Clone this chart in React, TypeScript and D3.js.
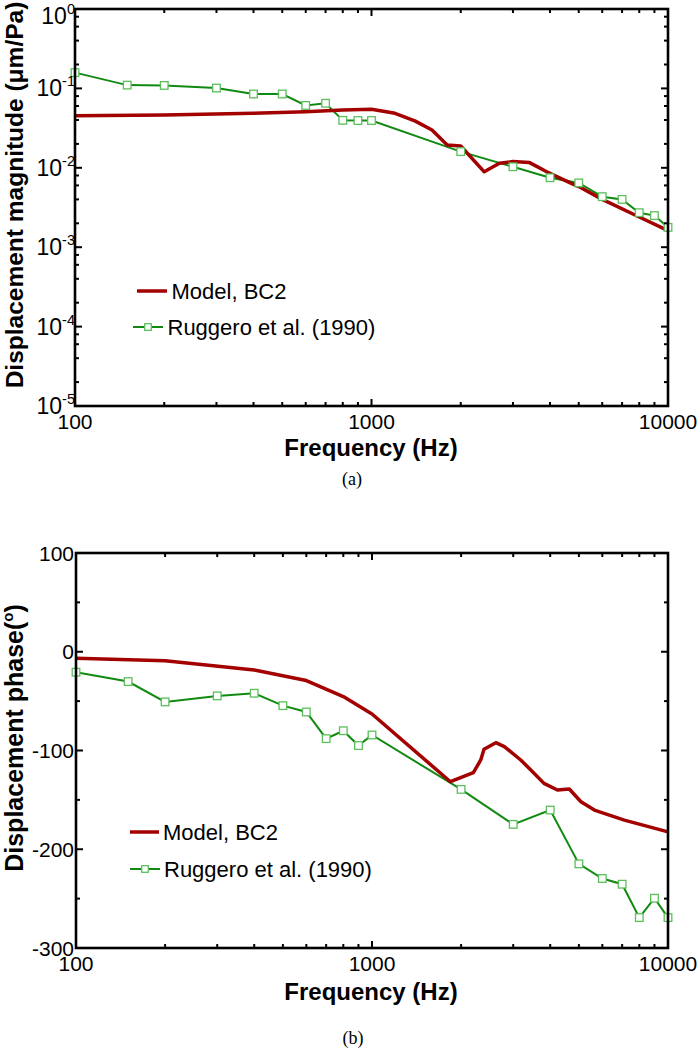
import React from 'react';
import * as d3 from 'd3';

// ---------- data ----------
const freqRuggero = [100, 150, 200, 300, 400, 500, 600, 700, 800, 900, 1000, 2000, 3000, 4000, 5000, 6000, 7000, 8000, 9000, 10000];
const magRuggero = [0.158, 0.110, 0.109, 0.101, 0.085, 0.085, 0.061, 0.065, 0.0396, 0.0394, 0.0394, 0.0160, 0.0103, 0.0075, 0.00645, 0.00433, 0.0040, 0.00272, 0.0025, 0.00178];
const phaseRuggero = [-20.7, -30.2, -50.8, -44.7, -42, -54.6, -61, -88, -80, -95, -84.3, -139.4, -174.8, -160.3, -214.8, -229.6, -235.4, -269.2, -249.6, -269.2];

const freqModelMag = [100, 200, 400, 600, 800, 1000, 1200, 1400, 1600, 1800, 2000, 2400, 2700, 3000, 3400, 3900, 4700, 5000, 6000, 8000, 10000];
const magModel = [0.0454, 0.0463, 0.0486, 0.0509, 0.0535, 0.0545, 0.0486, 0.039, 0.0299, 0.0194, 0.0188, 0.0089, 0.0114, 0.0120, 0.0117, 0.0089, 0.0064, 0.0058, 0.0040, 0.0024, 0.00162];

const freqModelPhase = [100, 200, 400, 600, 800, 1000, 1840, 2200, 2330, 2390, 2620, 2800, 3180, 3440, 3810, 4230, 4640, 5080, 5640, 7120, 10000];
const phaseModel = [-6.5, -9.2, -18.4, -29.2, -45.4, -63, -131.6, -122.5, -109.6, -98.8, -92.1, -96, -109.6, -119.8, -133.3, -140, -139, -151.9, -160.3, -170.5, -182.4];

const xTickLabels = ['100', '1000', '10000'];
const magDecades = [0, -1, -2, -3, -4, -5];
const phaseTicks = [100, 0, -100, -200, -300];
const legendNames = ['Model, BC2', 'Ruggero et al. (1990)'];

// ---------- style ----------
const FONT = 'Liberation Sans, Arial, Helvetica, sans-serif';
const SERIF = 'Liberation Serif, Times New Roman, serif';
const RED = '#a30000';
const GREEN = '#118a11';
const MARK = '#5cbf5c';

function xTickList() {
  const out: { v: number; major: boolean }[] = [];
  [100, 1000].forEach((d) => {
    for (let k = 1; k <= 9; k++) out.push({ v: d * k, major: k === 1 });
  });
  out.push({ v: 10000, major: true });
  return out;
}

function Frame({ xs, ys, yTicks }: { xs: any; ys: any; yTicks: { v: number; major: boolean }[] }) {
  const [x0, x1] = xs.range();
  const [y0, y1] = ys.range(); // y0 bottom, y1 top
  const xt = xTickList();
  const Lmaj = 7, Lmin = 4;
  return (
    <g>
      {xt.map((t, i) => {
        const x = xs(t.v);
        const L = t.major ? Lmaj : Lmin;
        return (
          <g key={'x' + i} stroke="#000" strokeWidth={2}>
            <line x1={x} x2={x} y1={y0} y2={y0 - L} />
            <line x1={x} x2={x} y1={y1} y2={y1 + L} />
          </g>
        );
      })}
      {yTicks.map((t, i) => {
        const y = ys(t.v);
        const L = t.major ? Lmaj : Lmin;
        return (
          <g key={'y' + i} stroke="#000" strokeWidth={2}>
            <line x1={x0} x2={x0 + L} y1={y} y2={y} />
            <line x1={x1} x2={x1 - L} y1={y} y2={y} />
          </g>
        );
      })}
      <rect x={x0} y={y1} width={x1 - x0} height={y0 - y1} fill="none" stroke="#000" strokeWidth={2.6} />
      {xTickLabels.map((lab) => (
        <text key={lab} x={xs(+lab)} y={y0 + 22.5} textAnchor="middle" fontFamily={FONT} fontSize={21} fill="#000">
          {lab}
        </text>
      ))}
    </g>
  );
}

function Series({ xs, ys, fm, vm, fr, vr }: any) {
  const line = d3.line<[number, number]>().x((d) => xs(d[0])).y((d) => ys(d[1]));
  const model = fm.map((f: number, i: number) => [f, vm[i]] as [number, number]);
  const rug = fr.map((f: number, i: number) => [f, vr[i]] as [number, number]);
  return (
    <g>
      <path d={line(rug) || ''} fill="none" stroke={GREEN} strokeWidth={2} />
      <path d={line(model) || ''} fill="none" stroke={RED} strokeWidth={3.5} strokeLinejoin="round" />
      {rug.map((d: [number, number], i: number) => (
        <rect key={i} x={xs(d[0]) - 3.8} y={ys(d[1]) - 3.8} width={7.6} height={7.6} fill="#fff" stroke={MARK} strokeWidth={1.3} />
      ))}
    </g>
  );
}

function Legend({ items }: { items: { x1: number; x2: number; y: number; tx: number }[] }) {
  return (
    <g fontFamily={FONT} fontSize={22} fill="#000">
      <line x1={items[0].x1} x2={items[0].x2} y1={items[0].y} y2={items[0].y} stroke={RED} strokeWidth={3.5} />
      <text x={items[0].tx} y={items[0].y + 8}>{legendNames[0]}</text>
      <line x1={items[1].x1} x2={items[1].x2} y1={items[1].y} y2={items[1].y} stroke={GREEN} strokeWidth={2} />
      <rect x={(items[1].x1 + items[1].x2) / 2 - 3.3} y={items[1].y - 3.3} width={6.6} height={6.6} fill="#fff" stroke={MARK} strokeWidth={1.3} />
      <text x={items[1].tx} y={items[1].y + 8}>{legendNames[1]}</text>
    </g>
  );
}

export default function App() {
  const xTop = d3.scaleLog().domain([100, 10000]).range([75, 668]);
  const yTop = d3.scaleLog().domain([1e-5, 1]).range([406, 9]);
  const xBot = d3.scaleLog().domain([100, 10000]).range([76, 668]);
  const yBot = d3.scaleLinear().domain([-300, 100]).range([948, 553]);

  const magTicks: { v: number; major: boolean }[] = [];
  magDecades.forEach((e) => {
    magTicks.push({ v: Math.pow(10, e), major: true });
    if (e > -5) [2, 4, 6, 8].forEach((k) => magTicks.push({ v: k * Math.pow(10, e - 1), major: false }));
  });
  const phTicks: { v: number; major: boolean }[] = [];
  for (let v = -300; v <= 100; v += 50) phTicks.push({ v, major: v % 100 === 0 });

  return (
    <svg width={698} height={1050} style={{ position: 'absolute', left: 0, top: 0, background: '#fff' }}>
      <rect width={698} height={1050} fill="#fff" />
      {/* ---------- (a) ---------- */}
      <Series xs={xTop} ys={yTop} fm={freqModelMag} vm={magModel} fr={freqRuggero} vr={magRuggero} />
      <Frame xs={xTop} ys={yTop} yTicks={magTicks} />
      {magDecades.map((e) => {
        const y = Math.max(yTop(Math.pow(10, e)), 16);
        return (
          <text key={e} x={75} y={y + 8} textAnchor="end" fontFamily={FONT} fontSize={23} fill="#000">
            <tspan>10</tspan>
            <tspan fontSize={14.5} dy={-10}>{e === 0 ? '0' : String(e)}</tspan>
          </text>
        );
      })}
      <text transform="translate(22.5,195) rotate(-90)" textAnchor="middle" fontFamily={FONT} fontSize={24.5} fontWeight="bold" fill="#000">
        Displacement magnitude (μm/Pa)
      </text>
      <text x={371} y={456} textAnchor="middle" fontFamily={FONT} fontSize={24} fontWeight="bold" fill="#000">
        Frequency (Hz)
      </text>
      <text x={352} y={485} textAnchor="middle" fontFamily={SERIF} fontSize={18} fill="#000">
        (a)
      </text>
      <Legend items={[{ x1: 137, x2: 167, y: 291, tx: 171.5 }, { x1: 133, x2: 163, y: 327, tx: 167.5 }]} />

      {/* ---------- (b) ---------- */}
      <Series xs={xBot} ys={yBot} fm={freqModelPhase} vm={phaseModel} fr={freqRuggero} vr={phaseRuggero} />
      <Frame xs={xBot} ys={yBot} yTicks={phTicks} />
      {phaseTicks.map((v) => (
        <text key={v} x={74} y={yBot(v) + 7.5} textAnchor="end" fontFamily={FONT} fontSize={21} fill="#000">
          {String(v)}
        </text>
      ))}
      <text transform="translate(22.5,738) rotate(-90)" textAnchor="middle" fontFamily={FONT} fontSize={25} fontWeight="bold" fill="#000">
        <tspan>Displacement phase(</tspan>
        <tspan fontSize={15} dy={-10}>o</tspan>
        <tspan dy={10}>)</tspan>
      </text>
      <text x={371} y={1000} textAnchor="middle" fontFamily={FONT} fontSize={24} fontWeight="bold" fill="#000">
        Frequency (Hz)
      </text>
      <text x={353} y={1044} textAnchor="middle" fontFamily={SERIF} fontSize={18} fill="#000">
        (b)
      </text>
      <Legend items={[{ x1: 130, x2: 159, y: 832, tx: 163 }, { x1: 130, x2: 160, y: 869, tx: 164 }]} />
    </svg>
  );
}
